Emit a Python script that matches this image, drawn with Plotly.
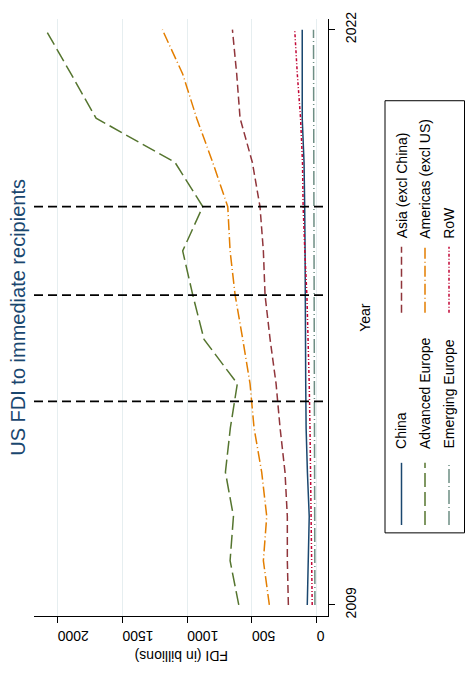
import plotly.graph_objects as go

# ---------------- data ----------------
years = list(range(2009, 2023))
series_names = ["China", "Asia (excl China)", "Advanced Europe",
                "Americas (excl US)", "Emerging Europe", "RoW"]
china = [73, 66, 58, 72, 82, 85, 85, 87, 90, 93, 98, 112, 112, 112]
asia_ex_china = [219, 227, 227, 245, 283, 314, 360, 399, 412, 438, 497, 592, 618, 651]
advanced_europe = [602, 669, 643, 705, 667, 613, 870, 957, 1035, 880, 1094, 1704, 1897, 2093]
americas_ex_us = [366, 412, 386, 425, 484, 515, 571, 630, 669, 687, 803, 927, 1035, 1192]
emerging_europe = [14, 15, 15, 16, 17, 18, 18, 19, 20, 21, 22, 22, 24, 25]
row = [35, 38, 42, 47, 52, 58, 66, 76, 92, 105, 110, 125, 150, 170]
event_years = [2013.6, 2016, 2018]
x_ticks = [0, 500, 1000, 1500, 2000]
y_ticks = [2009, 2022]

values = [china, asia_ex_china, advanced_europe, americas_ex_us, emerging_europe, row]
colors = ["#1a476f", "#90353b", "#55752f", "#e37e00", "#6e8e84", "#c10534"]
dashes = ["solid", "8px,4px", "14px,5px", "11px,3px,1px,3px", "14px,3px,1px,3px", "3px,2px,1px,2px"]

W, H = 466, 673
FONT = "Liberation Sans, Arial, sans-serif"

def px(x):
    return x / W

def py(y):
    return 1 - y / H

fig = go.Figure()
for name, vals, col, dsh in zip(series_names, values, colors, dashes):
    fig.add_trace(go.Scatter(x=vals, y=years, mode="lines", name=name,
                             line=dict(color=col, width=1.5, dash=dsh),
                             showlegend=False))

for ev in event_years:
    fig.add_shape(type="line", xref="x domain", x0=0, x1=1, yref="y", y0=ev, y1=ev,
                  line=dict(color="black", width=1.6, dash="9px,5px"))

fig.update_layout(
    width=W, height=H,
    margin=dict(l=0, r=0, t=0, b=0),
    paper_bgcolor="white", plot_bgcolor="white",
    font=dict(family=FONT, size=14, color="black"),
    xaxis=dict(domain=[px(34), px(328)], range=[2183, -87],
               tickvals=x_ticks, ticktext=[str(v) for v in x_ticks],
               tickangle=180, ticks="outside", ticklen=6, tickcolor="black",
               showline=True, linecolor="black", linewidth=1,
               showgrid=True, gridcolor="#e6eef0", gridwidth=1, zeroline=False,
               ticklabelstandoff=5, tickfont=dict(size=14)),
    yaxis=dict(domain=[py(617), py(12)], range=[2008.755, 2022.245],
               side="right", tickvals=y_ticks, ticktext=[str(v) for v in y_ticks],
               tickangle=-90, ticks="outside", ticklen=6, tickcolor="black",
               showline=True, linecolor="black", linewidth=1,
               showgrid=False, zeroline=False, ticklabelstandoff=4,
               tickfont=dict(size=14)),
)

# title and axis titles
fig.add_annotation(text="US FDI to immediate recipients", xref="paper", yref="paper",
                   x=px(18), y=py(315), textangle=-90, showarrow=False,
                   xanchor="center", yanchor="middle",
                   font=dict(size=20, color="#1a476f", family=FONT))
fig.add_annotation(text="FDI (in billions)", xref="paper", yref="paper",
                   x=px(182), y=py(658), textangle=180, showarrow=False,
                   xanchor="center", yanchor="middle",
                   font=dict(size=14, color="black", family=FONT))
fig.add_annotation(text="Year", xref="paper", yref="paper",
                   x=px(365), y=py(315), textangle=-90, showarrow=False,
                   xanchor="center", yanchor="middle",
                   font=dict(size=14, color="black", family=FONT))

# legend (rotated) built from shapes + annotations
fig.add_shape(type="rect", xref="paper", yref="paper",
              x0=px(385), x1=px(464.5), y0=py(533), y1=py(95),
              line=dict(color="black", width=1), fillcolor="white", layer="above")

leg_cols_x = [401.5, 425, 449]
blocks = [
    dict(idx=[0, 2, 4], key_top=462, key_bot=525, text_start=450),
    dict(idx=[1, 3, 5], key_top=243, key_bot=310, text_start=237),
]
for b in blocks:
    for cx, i in zip(leg_cols_x, b["idx"]):
        fig.add_shape(type="line", xref="paper", yref="paper",
                      x0=px(cx), x1=px(cx), y0=py(b["key_bot"]), y1=py(b["key_top"]),
                      line=dict(color=colors[i], width=1.5, dash=dashes[i]), layer="above")
        fig.add_annotation(text=series_names[i], xref="paper", yref="paper",
                           x=px(cx), y=py(b["text_start"]), textangle=-90,
                           xanchor="center", yanchor="bottom", showarrow=False,
                           font=dict(size=14, color="black", family=FONT))

fig.write_html("out.html", config={"displayModeBar": False},
               post_script="document.body.style.margin='0';")
